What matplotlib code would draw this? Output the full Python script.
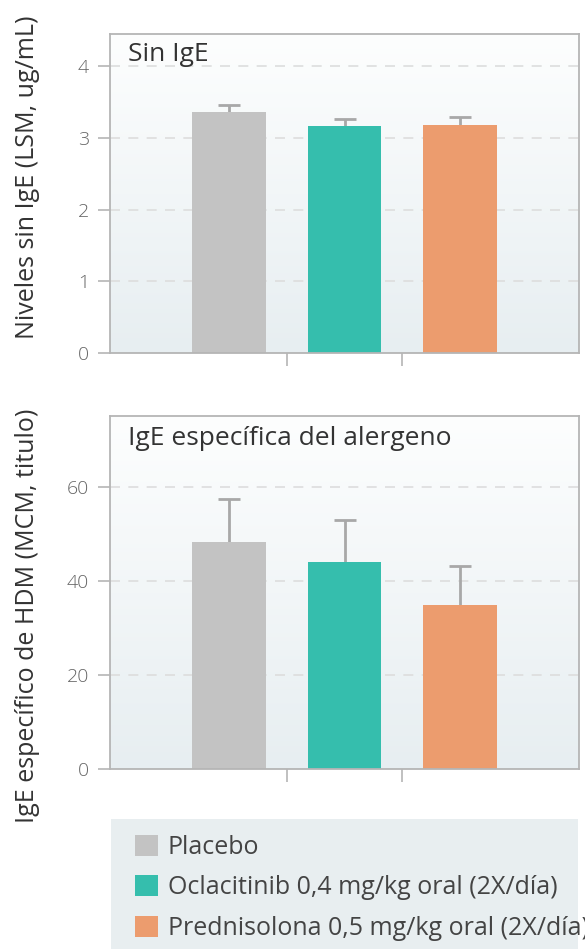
import matplotlib.pyplot as plt
from matplotlib.patches import Patch
from matplotlib.colors import LinearSegmentedColormap
import numpy as np

plt.rcParams['font.family'] = ['Open Sans', 'DejaVu Sans']

groups = ['Placebo', 'Oclacitinib 0,4 mg/kg oral (2X/día)', 'Prednisolona 0,5 mg/kg oral (2X/día)']
colors = ['#c3c3c3', '#35bead', '#ec9c6e']

total_ige = [3.36, 3.16, 3.18]
total_ige_err = [0.10, 0.11, 0.11]

hdm_ige = [48.3, 44.0, 34.9]
hdm_ige_err = [9.1, 9.0, 8.3]

fig = plt.figure(figsize=(5.85, 9.5), dpi=100)
bg_cmap = LinearSegmentedColormap.from_list('bg', ['#e7eef1', '#fdfefe'])

def panel(rect, values, errs, ylim, yticks, title, ylabel, label_y):
    ax = fig.add_axes(rect)
    x = np.arange(len(values))
    # soft vertical gradient behind the bars
    grad = np.linspace(0, 1, 256).reshape(-1, 1)
    ax.imshow(grad, extent=[0, 1, 0, 1], transform=ax.transAxes, aspect='auto',
              cmap=bg_cmap, origin='lower', zorder=0)
    for yv in yticks[1:]:
        ax.axhline(yv, color='#dddddd', lw=1.2, ls=(0, (6, 5)), zorder=1)
    # error bars sit under the bars so only the upper half shows
    ax.errorbar(x, values, yerr=errs, fmt='none',
                ecolor='#a8a8a8', elinewidth=2, capsize=8, capthick=2, zorder=2)
    ax.bar(x, values, width=0.64, color=colors, zorder=3)
    ax.set_xlim(-1.03, 3.03)
    ax.set_ylim(*ylim)
    ax.set_yticks(yticks)
    ax.set_xticks([0.5, 1.5])
    ax.set_xticklabels([])
    for s in ax.spines.values():
        s.set_color('#b5b5b5')
        s.set_linewidth(1.3)
        s.set_zorder(4)
    ax.tick_params(axis='both', colors='#b5b5b5', length=9, width=1.2, labelcolor='#666666',
                   labelsize=14, pad=6)
    for t in ax.get_yticklabels():
        t.set_fontweight('light')
    ax.text(0.038, 0.935, title, transform=ax.transAxes, fontsize=19, color='#333333',
            va='center', ha='left', zorder=5)
    ax.set_ylabel(ylabel, fontsize=18, color='#333333')
    ax.yaxis.set_label_coords(-0.15, label_y)
    return ax

panel([110 / 585, 1 - 353 / 950, 469 / 585, 319 / 950], total_ige, total_ige_err,
      (0, 4.45), [0, 1, 2, 3, 4], 'Sin IgE', 'Niveles sin IgE (LSM, ug/mL)', 0.55)

panel([110 / 585, 1 - 769 / 950, 469 / 585, 353 / 950], hdm_ige, hdm_ige_err,
      (0, 75.1), [0, 20, 40, 60], 'IgE específica del alergeno',
      'IgE específico de HDM (MCM, titulo)', 0.433)

# legend box (the last label runs past the right edge)
lax = fig.add_axes([111 / 585, 1 / 950, 467 / 585, 130 / 950])
lax.set_facecolor('#e8eef0')
for s in lax.spines.values():
    s.set_visible(False)
lax.set_xticks([])
lax.set_yticks([])
handles = [Patch(facecolor=c, edgecolor='none', label=g) for c, g in zip(colors, groups)]
leg = lax.legend(handles=handles, loc='center left', bbox_to_anchor=(0.052, 0.47), frameon=False,
                 fontsize=18, handlelength=0.9, handleheight=0.9, handletextpad=0.4,
                 labelspacing=0.62, borderpad=0, borderaxespad=0)
for t in leg.get_texts():
    t.set_color('#444444')

fig.savefig('out.png', dpi=100)
